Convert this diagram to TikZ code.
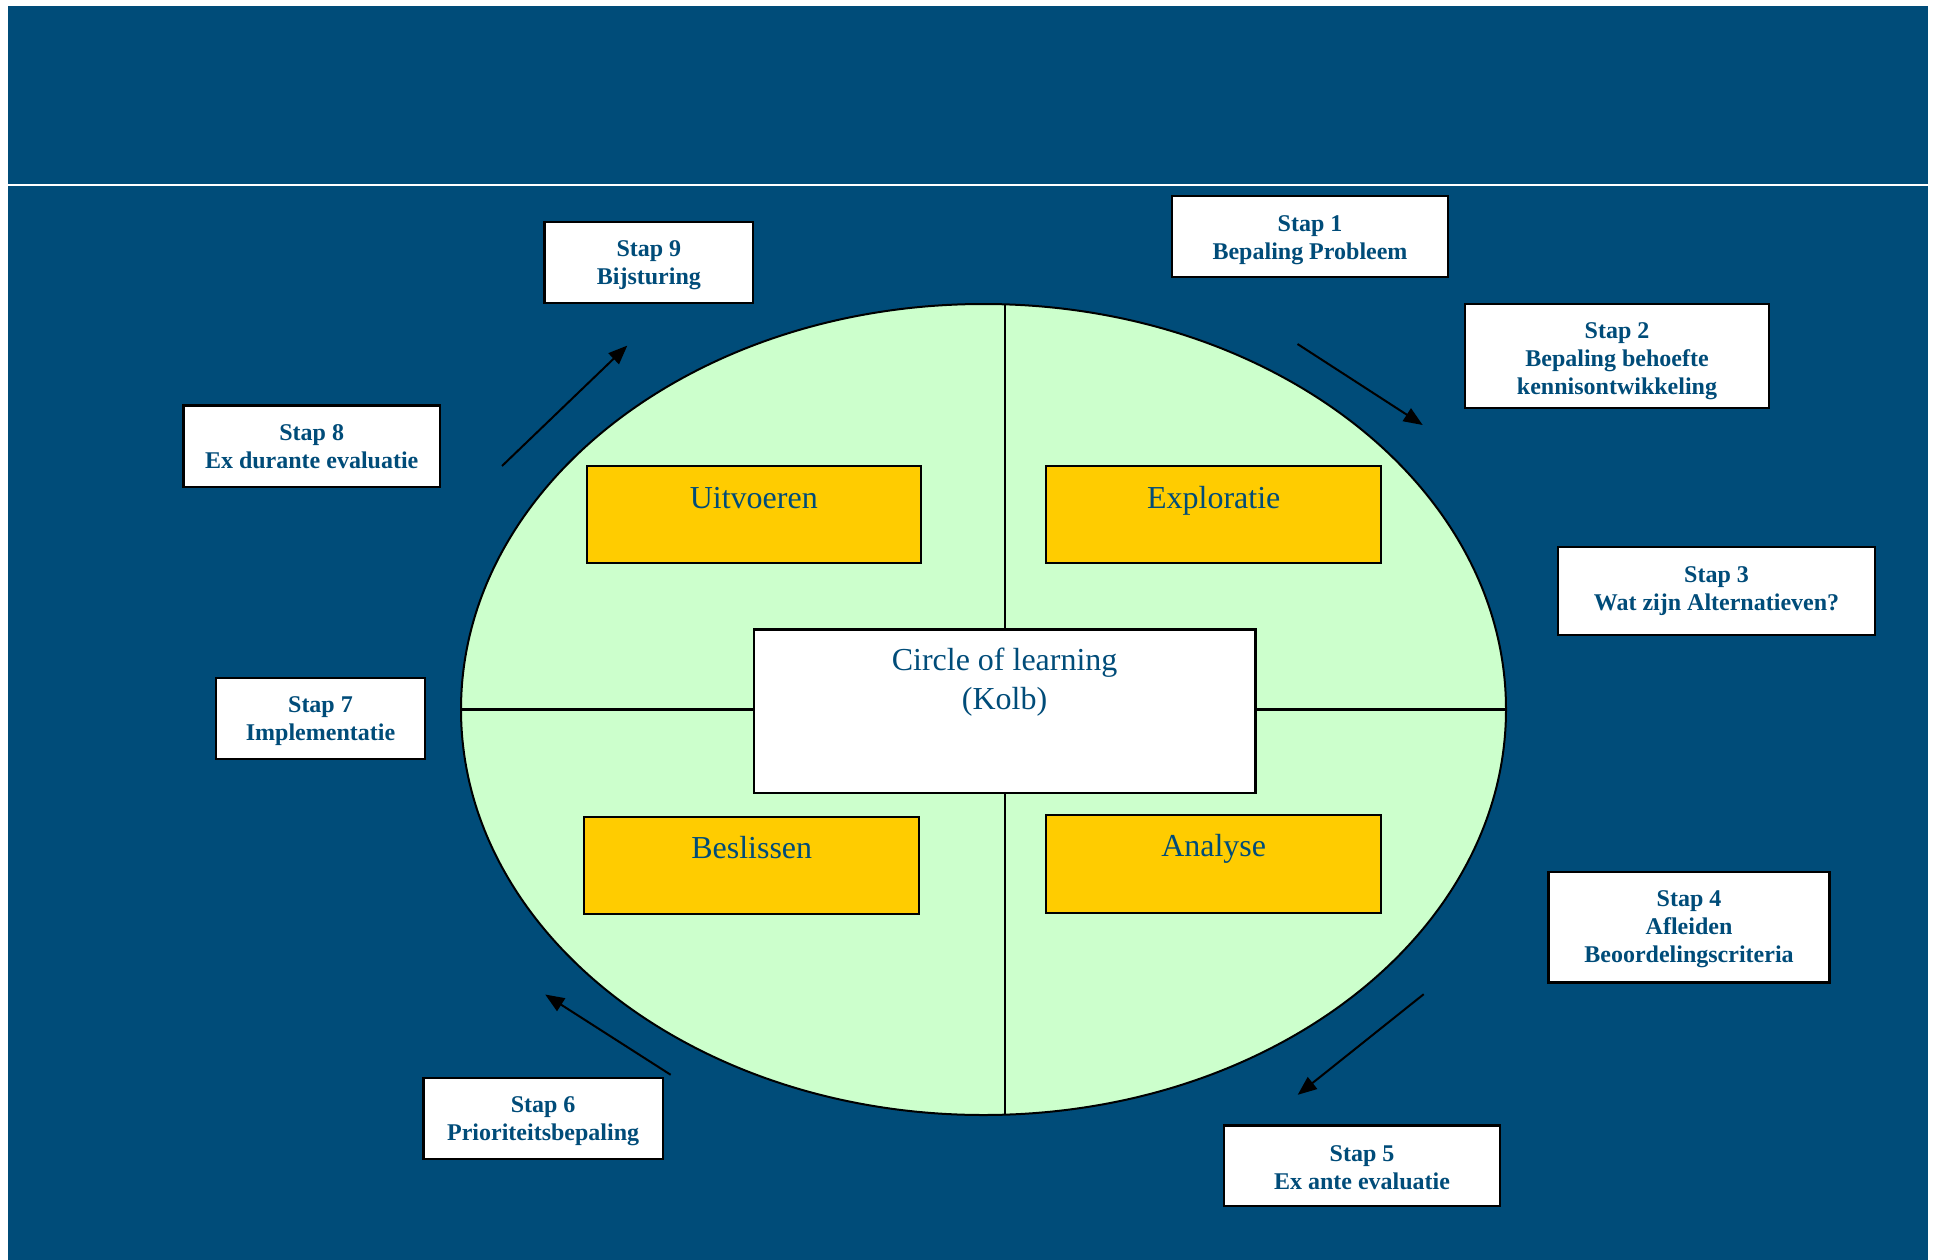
\documentclass[tikz,border=0pt]{standalone}
\usepackage{fontspec}
\setmainfont{Liberation Serif}
\usetikzlibrary{arrows.meta,shapes.geometric}
\definecolor{bgblue}{RGB}{0,76,121}
\definecolor{lgreen}{RGB}{204,255,204}
\definecolor{goldfill}{RGB}{255,204,0}
\definecolor{txtblue}{RGB}{0,76,121}
\newcommand{\dn}[1]{\rule{0pt}{#1pt}}
\tikzset{
  stapbox/.style={draw=black, line width=2.2pt, fill=white, inner sep=0pt, align=center,
    font=\fontsize{24}{28}\selectfont\bfseries, text=txtblue},
  goldbox/.style={draw=black, line width=2pt, fill=goldfill, inner sep=0pt},
  whitebox/.style={draw=black, line width=2.2pt, fill=white, inner sep=0pt},
  bigtext/.style={font=\fontsize{32}{39}\selectfont, text=txtblue, inner sep=0pt},
  flowarrow/.style={draw=black, line width=2pt, -{Triangle[length=19pt,width=15pt]}},
  crossline/.style={draw=black, line width=2.2pt},
}
\begin{document}
\begin{tikzpicture}[x=1pt,y=-1pt]
\useasboundingbox (0,0) rectangle (1937,1260);
\fill[white] (0,0) rectangle (1937,1260);
\fill[bgblue] (8,6) rectangle (1928,184);
\fill[bgblue] (8,186.5) rectangle (1928,1260);

% ellipse
\node[ellipse, draw=black, line width=2pt, fill=lgreen, inner sep=0pt,
      minimum width=1045pt, minimum height=811pt] (kolb) at (983.5,709.5) {};
\coordinate (vt) at (1005,304.4);
\coordinate (vb) at (1005,1114.6);
\draw[crossline] (vt) -- (vb);
\draw[crossline] (kolb.west) -- (kolb.east);

% center box
\node[whitebox, minimum width=501.8pt, minimum height=163.6pt] (center) at (1004.6,711.2) {};
\node[bigtext, anchor=base] (ct1) at (1004.6,670.8) {Circle of learning};
\node[bigtext, anchor=base] (ct2) at (1004.6,709) {(Kolb)};

% gold boxes
\node[goldbox, minimum width=334.4pt, minimum height=97.6pt] (uit) at (753.8,514.5) {};
\node[bigtext, anchor=base] (uitt) at (753.8,508) {Uitvoeren};
\node[goldbox, minimum width=334.8pt, minimum height=97.6pt] (expl) at (1213.7,514.5) {};
\node[bigtext, anchor=base] (explt) at (1213.7,508) {Exploratie};
\node[goldbox, minimum width=334.8pt, minimum height=97.6pt] (besl) at (751.7,865.3) {};
\node[bigtext, anchor=base] (beslt) at (751.7,858.1) {Beslissen};
\node[goldbox, minimum width=334.8pt, minimum height=97.6pt] (anal) at (1213.7,864.1) {};
\node[bigtext, anchor=base] (analt) at (1213.7,856.9) {Analyse};

% step boxes
\node[stapbox, minimum width=275.5pt, minimum height=80.3pt] (s1) at (1310,236.5) {\dn{24}Stap 1\\Bepaling Probleem};
\node[stapbox, minimum width=304pt, minimum height=104pt] (s2) at (1617,356) {\dn{26}Stap 2\\Bepaling behoefte\\kennisontwikkeling};
\node[stapbox, minimum width=317.5pt, minimum height=87.8pt] (s3) at (1716.5,591.1) {Stap 3\\Wat zijn Alternatieven?};
\node[stapbox, minimum width=281pt, minimum height=110.3pt] (s4) at (1689,927.3) {\dn{20}Stap 4\\Afleiden\\Beoordelingscriteria};
\node[stapbox, minimum width=276pt, minimum height=80.5pt] (s5) at (1362,1165.7) {\dn{19}Stap 5\\Ex ante evaluatie};
\node[stapbox, minimum width=239.2pt, minimum height=81.2pt] (s6) at (543.1,1118.4) {\dn{21}Stap 6\\Prioriteitsbepaling};
\node[stapbox, minimum width=209.6pt, minimum height=81.3pt] (s7) at (320.5,718.3) {\dn{21}Stap 7\\Implementatie};
\node[stapbox, minimum width=256.5pt, minimum height=81.5pt] (s8) at (311.7,446.2) {Stap 8\\Ex durante evaluatie};
\node[stapbox, minimum width=208.8pt, minimum height=80.9pt] (s9) at (648.9,262.8) {\dn{21}Stap 9\\Bijsturing};

% arrows
\coordinate (a9s) at (502,466);
\coordinate (a9e) at (627.3,345.6);
\draw[flowarrow] (a9s) -- (a9e);
\coordinate (a12s) at (1297.5,344);
\coordinate (a12e) at (1422.7,425);
\draw[flowarrow] (a12s) -- (a12e);
\coordinate (a45s) at (1423.7,994.2);
\coordinate (a45e) at (1297.7,1094.8);
\draw[flowarrow] (a45s) -- (a45e);
\coordinate (a67s) at (670.7,1074.8);
\coordinate (a67e) at (545.2,994.5);
\draw[flowarrow] (a67s) -- (a67e);
\end{tikzpicture}
\end{document}
